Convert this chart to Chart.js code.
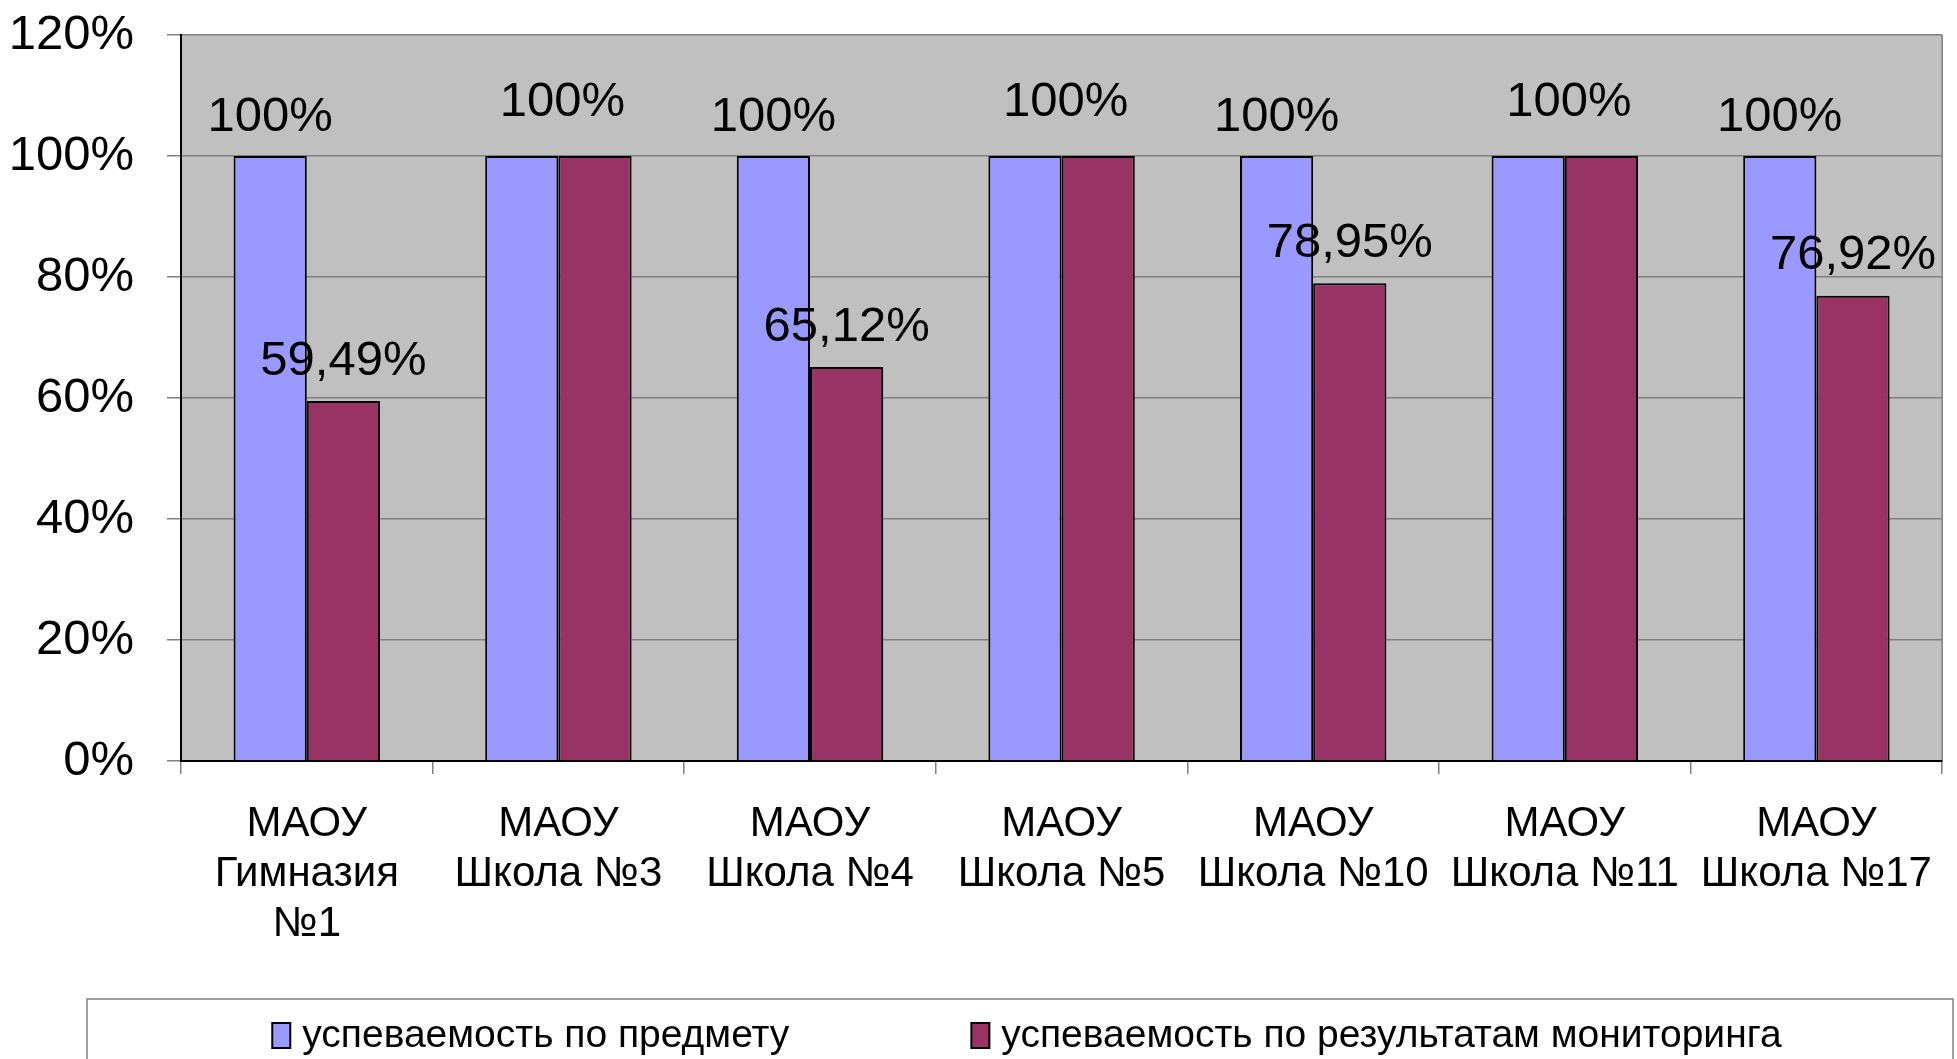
<!DOCTYPE html>
<html>
<head>
<meta charset="utf-8">
<title>Успеваемость</title>
<script src="https://cdn.jsdelivr.net/npm/chart.js@4.4.1/dist/chart.umd.min.js"></script>
<style>
  html, body { margin: 0; padding: 0; background: #fff; }
  #wrap { width: 1957px; height: 1059px; }
</style>
</head>
<body>
<div id="wrap"><canvas id="myChart"></canvas></div>
<script>
// Данные
const schools = [
    ['МАОУ', 'Гимназия', '№1'],
    ['МАОУ', 'Школа №3'],
    ['МАОУ', 'Школа №4'],
    ['МАОУ', 'Школа №5'],
    ['МАОУ', 'Школа №10'],
    ['МАОУ', 'Школа №11'],
    ['МАОУ', 'Школа №17']
];
const subjectRate = [100, 100, 100, 100, 100, 100, 100];
const monitoringRate = [59.49, 100, 65.12, 100, 78.95, 100, 76.92];
const yTicks = [0, 20, 40, 60, 80, 100, 120];

const FONT = "'Liberation Sans', Arial, sans-serif";
const fmt = v => String(v).replace('.', ',') + '%';

// Серый фон области построения
const plotBg = {
    id: 'plotBg',
    beforeDraw(chart) {
        const { ctx, chartArea: a } = chart;
        ctx.save();
        ctx.fillStyle = '#c0c0c0';
        ctx.fillRect(a.left, a.top, a.right - a.left, a.bottom - a.top);
        ctx.strokeStyle = '#808080';
        ctx.lineWidth = 1.5;
        ctx.beginPath();
        ctx.moveTo(a.right, a.top);
        ctx.lineTo(a.right, a.bottom);
        ctx.stroke();
        ctx.restore();
    }
};

// Подписи значений
const valueLabels = {
    id: 'valueLabels',
    afterDatasetsDraw(chart) {
        const { ctx } = chart;
        const m0 = chart.getDatasetMeta(0).data;
        const m1 = chart.getDatasetMeta(1).data;
        ctx.save();
        ctx.font = '49px ' + FONT;
        ctx.fillStyle = '#000';
        ctx.textAlign = 'center';
        ctx.textBaseline = 'middle';
        m0.forEach((bar, i) => {
            const other = m1[i];
            if (subjectRate[i] === monitoringRate[i]) {
                ctx.fillText(fmt(subjectRate[i]), (bar.x + other.x) / 2 + 4, bar.y - 54);
            } else {
                ctx.fillText(fmt(subjectRate[i]), bar.x, bar.y - 39);
                ctx.fillText(fmt(monitoringRate[i]), other.x, other.y - 40);
            }
        });
        ctx.restore();
    }
};

// Легенда в рамке снизу
const boxLegend = {
    id: 'boxLegend',
    afterDraw(chart) {
        const { ctx } = chart;
        const left = 87, right = 1953, top = 999, cy = 1036;
        ctx.save();
        ctx.strokeStyle = '#808080';
        ctx.lineWidth = 1.5;
        ctx.strokeRect(left, top, right - left, 80);
        ctx.font = '39px ' + FONT;
        ctx.textBaseline = 'middle';
        const sq = 18, gap = 12, itemGap = 182;
        const items = chart.data.datasets.map(d => ({
            text: d.label, color: d.backgroundColor, w: ctx.measureText(d.label).width
        }));
        const total = items.reduce((s, it) => s + sq + gap + it.w, 0) + itemGap * (items.length - 1);
        let x = (left + right) / 2 - total / 2 + 7;
        items.forEach(it => {
            ctx.fillStyle = it.color;
            ctx.fillRect(x, cy - 13, sq, 25);
            ctx.strokeStyle = '#000';
            ctx.lineWidth = 2;
            ctx.strokeRect(x, cy - 13, sq, 25);
            ctx.fillStyle = '#000';
            ctx.fillText(it.text, x + sq + gap, cy);
            x += sq + gap + it.w + itemGap;
        });
        ctx.restore();
    }
};

const config = {
    type: 'bar',
    data: {
        labels: schools,
        datasets: [
            {
                label: 'успеваемость по предмету',
                data: subjectRate,
                backgroundColor: '#9999ff',
                borderColor: '#000',
                borderWidth: 2
            },
            {
                label: 'успеваемость по результатам мониторинга',
                data: monitoringRate,
                backgroundColor: '#993366',
                borderColor: '#000',
                borderWidth: 2
            }
        ]
    },
    options: {
        responsive: true,
        maintainAspectRatio: false,
        animation: false,
        devicePixelRatio: 1,
        layout: { padding: { top: 35, right: 1, bottom: 0, left: 0 } },
        datasets: {
            bar: { barPercentage: 1, categoryPercentage: 0.582 }
        },
        plugins: {
            legend: { display: false },
            tooltip: { enabled: false }
        },
        scales: {
            x: {
                grid: {
                    offset: true,
                    drawOnChartArea: false,
                    tickLength: 13,
                    color: '#808080',
                    lineWidth: 1.5
                },
                border: { color: '#000', width: 2 },
                ticks: {
                    color: '#000',
                    padding: 25,
                    maxRotation: 0,
                    autoSkip: false,
                    font: { family: FONT, size: 42, lineHeight: 50 / 42 }
                },
                afterFit(scale) { scale.height = 298; }
            },
            y: {
                min: 0,
                max: 120,
                afterBuildTicks(scale) { scale.ticks = yTicks.map(v => ({ value: v })); },
                grid: {
                    color: '#808080',
                    lineWidth: 1.5,
                    tickLength: 14
                },
                border: { color: '#000', width: 2 },
                ticks: {
                    color: '#000',
                    padding: 33,
                    font: { family: FONT, size: 49 },
                    callback: v => v + '%'
                },
                afterFit(scale) {
                    scale.width = 181;
                    scale.paddingTop = 0;
                    scale.paddingBottom = 0;
                }
            }
        }
    },
    plugins: [plotBg, valueLabels, boxLegend]
};

const myChart = new Chart(document.getElementById('myChart').getContext('2d'), config);
</script>
</body>
</html>
